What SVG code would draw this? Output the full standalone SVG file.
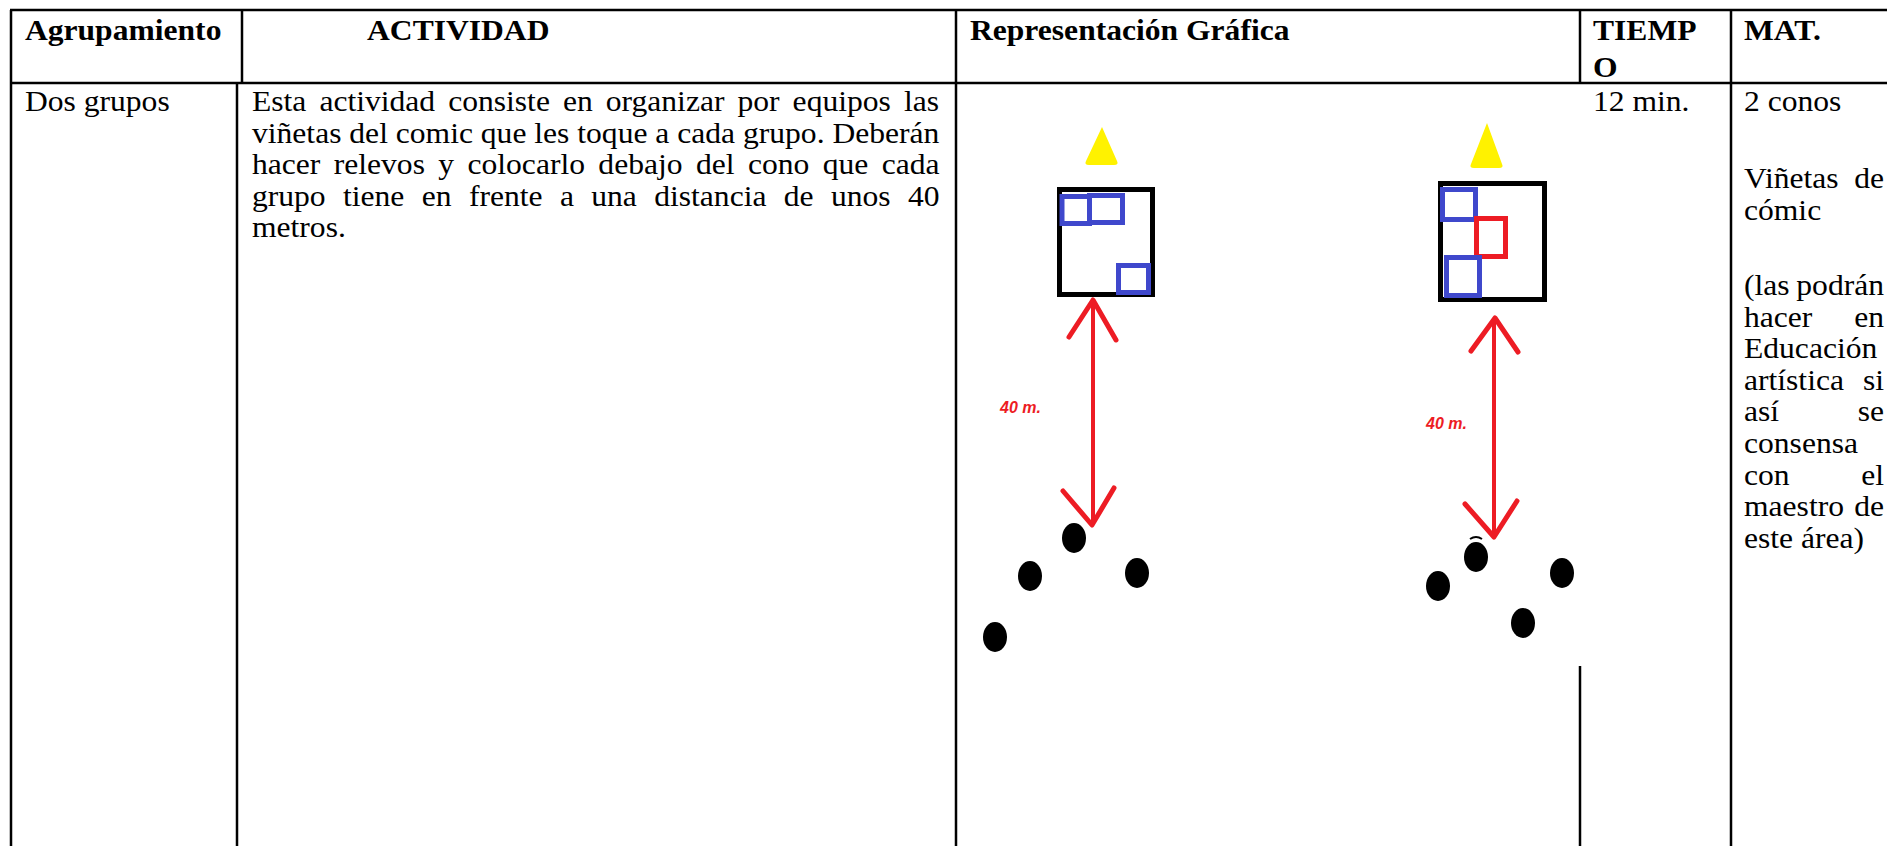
<svg xmlns="http://www.w3.org/2000/svg" width="1887" height="846" viewBox="0 0 1887 846">
<style>
.ln{stroke:#000;stroke-width:2.5;fill:none}
.t{font-family:"Liberation Serif","Times New Roman",serif;font-size:29.5px;fill:#000}
.b{font-weight:bold}
.e{text-anchor:end}
.box{fill:#fff;stroke:#000;stroke-width:5}
.bl{fill:none;stroke:#3F48CC;stroke-width:5}
.rd{fill:none;stroke:#ED1C24;stroke-width:5}
.cone{fill:#FFF200}
.dot{fill:#000}
.arr{stroke:#ED1C24;fill:none;stroke-linecap:round;stroke-linejoin:round}
.lbl{font-family:"Liberation Sans",Arial,sans-serif;font-size:16px;font-weight:bold;font-style:italic;fill:#ED1C24}
</style>
<rect width="1887" height="846" fill="#fff"/>
<g id="table">
<line class="ln" x1="10" y1="10" x2="1887" y2="10"/>
<line class="ln" x1="11" y1="10" x2="11" y2="846"/>
<line class="ln" x1="11" y1="83" x2="1887" y2="83"/>
<line class="ln" x1="242" y1="10" x2="242" y2="83"/>
<line class="ln" x1="237" y1="83" x2="237" y2="846"/>
<line class="ln" x1="956" y1="10" x2="956" y2="846"/>
<line class="ln" x1="1580" y1="10" x2="1580" y2="83"/>
<line class="ln" x1="1580" y1="666" x2="1580" y2="846"/>
<line class="ln" x1="1731" y1="10" x2="1731" y2="846"/>
</g>
<g transform="scale(1.071 1)">
<g id="header">
<text class="t b" x="23.3" y="40">Agrupamiento</text>
<text class="t b" x="342.7" y="40">ACTIVIDAD</text>
<text class="t b" x="905.7" y="40">Representación Gráfica</text>
<text class="t b" x="1487.4" y="40">TIEMP</text>
<text class="t b" x="1487.4" y="77">O</text>
<text class="t b" x="1628.4" y="40">MAT.</text>
</g>
<g id="agrupamiento">
<text class="t" x="23.3" y="111">Dos grupos</text>
</g>
<g id="actividad">
<text class="t" x="235.3" y="111" style="word-spacing:4.81px">Esta actividad consiste en organizar por equipos las</text>
<text class="t" x="235.3" y="142.6">viñetas del comic que les toque a cada grupo. Deberán</text>
<text class="t" x="235.3" y="174.2" style="word-spacing:5.14px">hacer relevos y colocarlo debajo del cono que cada</text>
<text class="t" x="235.3" y="205.8" style="word-spacing:8.84px">grupo tiene en frente a una distancia de unos 40</text>
<text class="t" x="235.3" y="237.4">metros.</text>
</g>
<g id="tiempo">
<text class="t" x="1487.4" y="111">12 min.</text>
</g>
<g id="material">
<text class="t" x="1628.4" y="111">2 conos</text>
<text class="t" x="1628.4" y="188">Viñetas</text><text class="t e" x="1759.1" y="188">de</text>
<text class="t" x="1628.4" y="219.6">cómic</text>
<text class="t" x="1628.4" y="295">(las</text><text class="t e" x="1759.1" y="295">podrán</text>
<text class="t" x="1628.4" y="326.6">hacer</text><text class="t e" x="1759.1" y="326.6">en</text>
<text class="t" x="1628.4" y="358.2">Educación</text>
<text class="t" x="1628.4" y="389.8">artística</text><text class="t e" x="1759.1" y="389.8">si</text>
<text class="t" x="1628.4" y="421.4">así</text><text class="t e" x="1759.1" y="421.4">se</text>
<text class="t" x="1628.4" y="453">consensa</text>
<text class="t" x="1628.4" y="484.6">con</text><text class="t e" x="1759.1" y="484.6">el</text>
<text class="t" x="1628.4" y="516.2">maestro</text><text class="t e" x="1759.1" y="516.2">de</text>
<text class="t" x="1628.4" y="547.8">este área)</text>
</g>
</g>
<g id="grupo1">
<path class="cone" d="M1102 127 L1117 161 Q1119 165 1114 165 L1089 165 Q1084 165 1086 161 Z"/>
<rect class="box" x="1059.5" y="189.5" width="93" height="105"/>
<rect class="bl" x="1062" y="196.5" width="27.5" height="27"/>
<rect class="bl" x="1089.5" y="195.5" width="33" height="27"/>
<rect class="bl" x="1118.5" y="265.5" width="30" height="27"/>
<text class="lbl" x="1000" y="413">40 m.</text>
<ellipse class="dot" cx="1074" cy="538" rx="12" ry="15"/>
<ellipse class="dot" cx="1030" cy="576" rx="12" ry="15"/>
<ellipse class="dot" cx="1137" cy="573" rx="12" ry="15"/>
<ellipse class="dot" cx="995" cy="637" rx="12" ry="15"/>
</g>
<g id="grupo2">
<path class="cone" d="M1487 123 L1502 164 Q1504 168 1499 168 L1474 168 Q1469 168 1471 164 Z"/>
<rect class="box" x="1440.5" y="183.5" width="104" height="116"/>
<rect class="bl" x="1442.5" y="189.5" width="33" height="30"/>
<rect class="rd" x="1476.5" y="218.5" width="29" height="38"/>
<rect class="bl" x="1446.5" y="257.5" width="33" height="38"/>
<text class="lbl" x="1426" y="429">40 m.</text>
<path d="M1470 539 Q1476 535 1482 539" stroke="#000" stroke-width="2" fill="none"/>
<ellipse class="dot" cx="1476" cy="557" rx="12" ry="15"/>
<ellipse class="dot" cx="1438" cy="586" rx="12" ry="15"/>
<ellipse class="dot" cx="1562" cy="573" rx="12" ry="15"/>
<ellipse class="dot" cx="1523" cy="623" rx="12" ry="15"/>
</g>
<g id="connectors">
<line class="arr" x1="1093" y1="302" x2="1093" y2="523" stroke-width="4"/>
<polyline class="arr" points="1069,337 1093,300 1116,340" stroke-width="5"/>
<polyline class="arr" points="1063,491 1092,525 1114,488" stroke-width="5"/>
<line class="arr" x1="1494" y1="320" x2="1494" y2="535" stroke-width="4"/>
<polyline class="arr" points="1471,351 1495,318 1518,352" stroke-width="5"/>
<polyline class="arr" points="1465,504 1494,537 1517,501" stroke-width="5"/>
</g>
</svg>
